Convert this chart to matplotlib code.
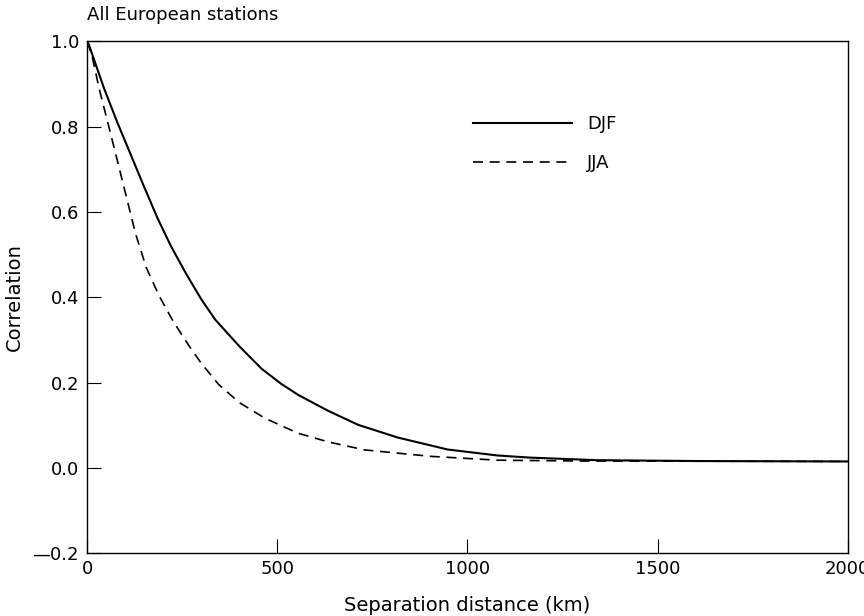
import matplotlib
matplotlib.use("Agg")
import matplotlib.pyplot as plt
from matplotlib.ticker import FuncFormatter

plt.rcParams['font.family'] = ['DejaVu Sans']

# separation distance (km) and correlation
djf_km = [0, 5, 44, 79, 114, 149, 185, 220, 260, 300, 337, 400, 459, 510, 555, 633, 712, 817,
          948, 1079, 1165, 1340, 1600, 2000]
djf_corr = [1.0, 0.99, 0.89, 0.81, 0.735, 0.66, 0.585, 0.52, 0.455, 0.395, 0.347, 0.285, 0.232,
            0.197, 0.171, 0.134, 0.101, 0.071, 0.043, 0.029, 0.024, 0.018, 0.016, 0.015]

jja_km = [0, 14, 31, 53, 75, 101, 127, 155, 188, 225, 267, 300, 345, 400, 468, 555, 633, 730,
          903, 1079, 1300, 2000]
jja_corr = [1.0, 0.96, 0.89, 0.813, 0.735, 0.642, 0.549, 0.47, 0.405, 0.345, 0.287, 0.245, 0.196,
            0.153, 0.116, 0.081, 0.061, 0.042, 0.027, 0.018, 0.016, 0.015]

x_ticks = [0, 500, 1000, 1500, 2000]
y_ticks = [-0.2, 0.0, 0.2, 0.4, 0.6, 0.8, 1.0]

fig = plt.figure(figsize=(8.64, 6.16), dpi=100)
ax = fig.add_axes([0.101, 0.102, 0.880, 0.831])

ax.plot(djf_km, djf_corr, color='black', lw=1.5, label='DJF')
ax.plot(jja_km, jja_corr, color='black', lw=1.2, linestyle=(0, (6, 4)), label='JJA')

ax.set_xlim(0, 2000)
ax.set_ylim(-0.2, 1.0)
ax.set_xticks(x_ticks)
ax.set_yticks(y_ticks)
ax.yaxis.set_major_formatter(FuncFormatter(lambda v, p: f"{v:.1f}".replace('-', '\u2014')))
ax.tick_params(direction='in', length=10, width=0.8, labelsize=13, pad=6)
ax.tick_params(axis='x', pad=5)
for s in ax.spines.values():
    s.set_linewidth(1.0)

ax.set_xlabel('Separation distance (km)', fontsize=14, labelpad=13)
ax.set_ylabel('Correlation', fontsize=14, labelpad=6)
fig.text(0.101, 0.975, 'All European stations', fontsize=13, ha='left', va='center')

ax.legend(loc='upper left', bbox_to_anchor=(0.507, 0.856), frameon=False, fontsize=13,
          handlelength=5.5, handletextpad=0.85, labelspacing=1.17, borderpad=0, borderaxespad=0)

fig.savefig('out.png', dpi=100)
